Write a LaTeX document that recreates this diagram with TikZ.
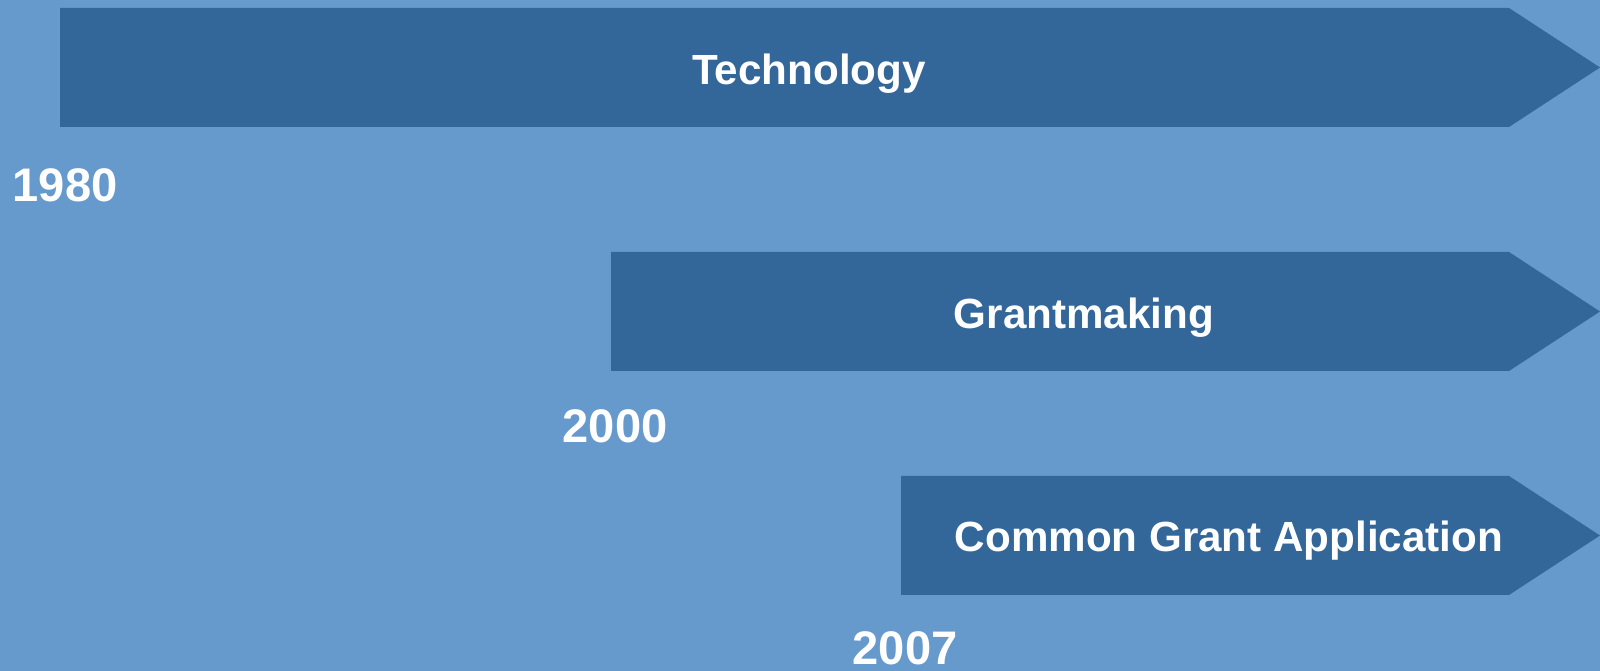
\documentclass[tikz,border=0pt]{standalone}
\usepackage{fontspec}
\setmainfont{Liberation Sans}
\usepackage[HTML]{xcolor}
\usepackage{tikz}
\definecolor{bgblue}{HTML}{6699CC}
\definecolor{barblue}{HTML}{336699}
\tikzset{
  bar/.style={fill=barblue},
  barlabel/.style={text=white, font=\fontsize{12pt}{14pt}\selectfont\bfseries, anchor=base, inner sep=0pt},
  yearlabel/.style={text=white, font=\fontsize{13.4pt}{15pt}\selectfont\bfseries, anchor=base west, inner sep=0pt}
}

\begin{document}
\begin{tikzpicture}
% background
\fill[bgblue] (0,0) rectangle (16,-6.71);
\useasboundingbox (0,0) rectangle (16,-6.71);
% timeline bars
\fill[bar] (0.60,-0.08) -- (15.09,-0.08) -- (16.00,-0.675) -- (15.09,-1.27) -- (0.60,-1.27) -- cycle;
\fill[bar] (6.11,-2.52) -- (15.09,-2.52) -- (16.00,-3.115) -- (15.09,-3.71) -- (6.11,-3.71) -- cycle;
\fill[bar] (9.01,-4.76) -- (15.09,-4.76) -- (16.00,-5.355) -- (15.09,-5.95) -- (9.01,-5.95) -- cycle;
% bar texts
\node[barlabel] (tech) at (8.09,-0.85) {Technology};
\node[barlabel] (grant) at (10.84,-3.29) {Grantmaking};
\node[barlabel] (cga) at (12.29,-5.52) {Common Grant Application};
% years
\node[yearlabel] (y1980) at (0.12,-2.02) {1980};
\node[yearlabel] (y2000) at (5.62,-4.43) {2000};
\node[yearlabel] (y2007) at (8.52,-6.65) {2007};
\end{tikzpicture}
\end{document}
